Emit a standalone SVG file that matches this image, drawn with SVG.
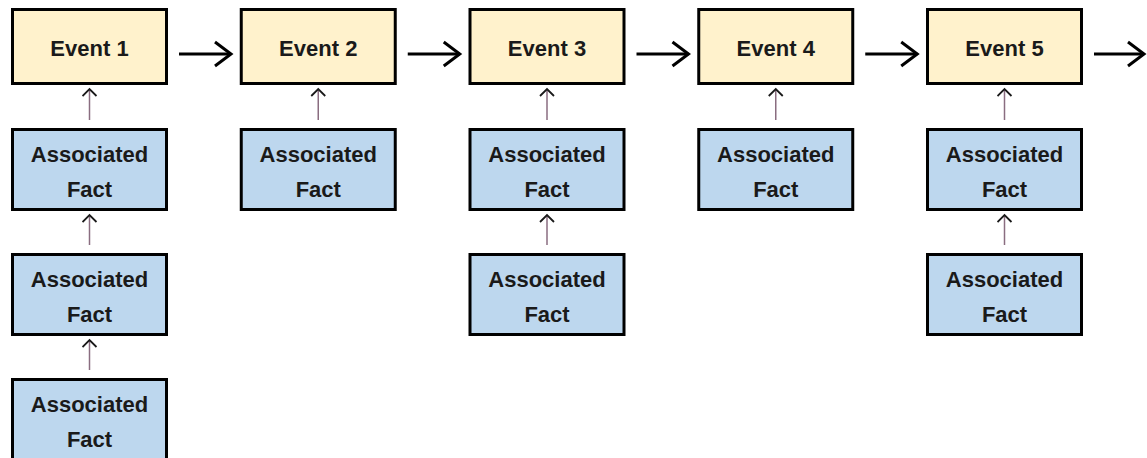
<svg xmlns="http://www.w3.org/2000/svg" width="1147" height="458" viewBox="0 0 1147 458">
<style>
.ev{fill:#FFF2CC;stroke:#000;stroke-width:3}
.fa{fill:#BDD7EE;stroke:#000;stroke-width:3}
.t{font-family:"Liberation Sans",Arial,sans-serif;font-weight:bold;font-size:22px;fill:#1a1a1a;text-anchor:middle}
.h{stroke:#000;stroke-width:3;fill:none}
.v{stroke:#8a6d80;stroke-width:1.5;fill:none}
</style>
<defs>
<marker id="ah" markerUnits="userSpaceOnUse" markerWidth="22" markerHeight="30" refX="18" refY="14" orient="auto">
<path d="M2,2 L18,14 L2,26" fill="none" stroke="#000" stroke-width="3" stroke-linejoin="miter"/>
</marker>
<marker id="av" markerUnits="userSpaceOnUse" markerWidth="12" markerHeight="18" refX="9" refY="8" orient="auto">
<path d="M2,1 L9,8 L2,15" fill="none" stroke="#1a1a1a" stroke-width="1.8"/>
</marker>
</defs>
<g id="connectors">
<line class="h" x1="179" y1="54" x2="231" y2="54" marker-end="url(#ah)"/>
<line class="h" x1="407.75" y1="54" x2="459.75" y2="54" marker-end="url(#ah)"/>
<line class="h" x1="636.5" y1="54" x2="688.5" y2="54" marker-end="url(#ah)"/>
<line class="h" x1="865.25" y1="54" x2="917.25" y2="54" marker-end="url(#ah)"/>
<line class="h" x1="1094" y1="54" x2="1144" y2="54" marker-end="url(#ah)"/>
<line class="v" x1="89.5" y1="120" x2="89.5" y2="89" marker-end="url(#av)"/>
<line class="v" x1="89.5" y1="245" x2="89.5" y2="215" marker-end="url(#av)"/>
<line class="v" x1="89.5" y1="370" x2="89.5" y2="340" marker-end="url(#av)"/>
<line class="v" x1="318.25" y1="120" x2="318.25" y2="89" marker-end="url(#av)"/>
<line class="v" x1="547" y1="120" x2="547" y2="89" marker-end="url(#av)"/>
<line class="v" x1="547" y1="245" x2="547" y2="215" marker-end="url(#av)"/>
<line class="v" x1="775.75" y1="120" x2="775.75" y2="89" marker-end="url(#av)"/>
<line class="v" x1="1004.5" y1="120" x2="1004.5" y2="89" marker-end="url(#av)"/>
<line class="v" x1="1004.5" y1="245" x2="1004.5" y2="215" marker-end="url(#av)"/>
</g>
<g id="event1"><rect class="ev" x="12.5" y="9.5" width="154" height="74"/><text class="t" x="89.5" y="56">Event 1</text></g>
<g id="event2"><rect class="ev" x="241.25" y="9.5" width="154" height="74"/><text class="t" x="318.25" y="56">Event 2</text></g>
<g id="event3"><rect class="ev" x="470" y="9.5" width="154" height="74"/><text class="t" x="547" y="56">Event 3</text></g>
<g id="event4"><rect class="ev" x="698.75" y="9.5" width="154" height="74"/><text class="t" x="775.75" y="56">Event 4</text></g>
<g id="event5"><rect class="ev" x="927.5" y="9.5" width="154" height="74"/><text class="t" x="1004.5" y="56">Event 5</text></g>
<g id="fact1a"><rect class="fa" x="12.5" y="129.5" width="154" height="80"/><text class="t" x="89.5" y="162">Associated</text><text class="t" x="89.5" y="197">Fact</text></g>
<g id="fact1b"><rect class="fa" x="12.5" y="254.5" width="154" height="80"/><text class="t" x="89.5" y="287">Associated</text><text class="t" x="89.5" y="322">Fact</text></g>
<g id="fact1c"><rect class="fa" x="12.5" y="379.5" width="154" height="80"/><text class="t" x="89.5" y="412">Associated</text><text class="t" x="89.5" y="447">Fact</text></g>
<g id="fact2a"><rect class="fa" x="241.25" y="129.5" width="154" height="80"/><text class="t" x="318.25" y="162">Associated</text><text class="t" x="318.25" y="197">Fact</text></g>
<g id="fact3a"><rect class="fa" x="470" y="129.5" width="154" height="80"/><text class="t" x="547" y="162">Associated</text><text class="t" x="547" y="197">Fact</text></g>
<g id="fact3b"><rect class="fa" x="470" y="254.5" width="154" height="80"/><text class="t" x="547" y="287">Associated</text><text class="t" x="547" y="322">Fact</text></g>
<g id="fact4a"><rect class="fa" x="698.75" y="129.5" width="154" height="80"/><text class="t" x="775.75" y="162">Associated</text><text class="t" x="775.75" y="197">Fact</text></g>
<g id="fact5a"><rect class="fa" x="927.5" y="129.5" width="154" height="80"/><text class="t" x="1004.5" y="162">Associated</text><text class="t" x="1004.5" y="197">Fact</text></g>
<g id="fact5b"><rect class="fa" x="927.5" y="254.5" width="154" height="80"/><text class="t" x="1004.5" y="287">Associated</text><text class="t" x="1004.5" y="322">Fact</text></g>
</svg>
